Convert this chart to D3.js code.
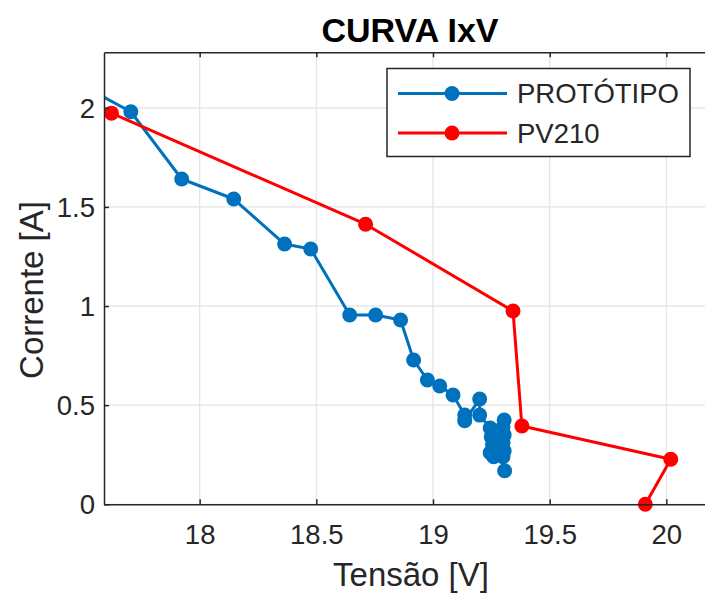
<!DOCTYPE html>
<html>
<head>
<meta charset="utf-8">
<script src="https://cdn.jsdelivr.net/npm/d3@7"></script>
<style>
  body { margin: 0; background: #fff; }
  text { font-family: "Liberation Sans", Arial, sans-serif; }
</style>
</head>
<body>
<svg width="705" height="595"></svg>
<script>
// tensão (V) e corrente (A)
const protoV = [17.50, 17.705, 17.923, 18.146, 18.364, 18.476, 18.643, 18.754, 18.861, 18.917, 18.976, 19.029, 19.086, 19.136, 19.136, 19.200, 19.200, 19.245, 19.250, 19.255, 19.245, 19.260, 19.305, 19.300, 19.305, 19.300, 19.305, 19.300, 19.307];
const protoI = [2.11, 1.98, 1.641, 1.540, 1.313, 1.288, 0.955, 0.955, 0.930, 0.728, 0.627, 0.597, 0.551, 0.450, 0.422, 0.531, 0.450, 0.385, 0.340, 0.300, 0.260, 0.240, 0.425, 0.390, 0.350, 0.310, 0.270, 0.240, 0.169];
const pvV = [17.622, 18.711, 19.343, 19.381, 20.019, 19.910];
const pvI = [1.973, 1.413, 0.975, 0.395, 0.227, 0.0];
const xTicks = [18, 18.5, 19, 19.5, 20];
const yTicks = [0, 0.5, 1, 1.5, 2];
const seriesNames = ["PROTÓTIPO", "PV210"];
const seriesColors = ["#0072BD", "#FF0000"];

const svg = d3.select("svg");
const pLeft = 104, pRight = 720, pTop = 52.3, pBottom = 504.3;

const x = d3.scaleLinear().domain([17.59, 20.23]).range([pLeft, pRight]);
const y = d3.scaleLinear().domain([0, 2.28]).range([pBottom, pTop]);

svg.append("clipPath").attr("id", "plotclip")
  .append("rect").attr("x", pLeft).attr("y", pTop).attr("width", pRight - pLeft).attr("height", pBottom - pTop);

//grid
svg.append("g").selectAll("line").data(xTicks).enter().append("line")
  .attr("x1", d => x(d)).attr("x2", d => x(d)).attr("y1", pTop).attr("y2", pBottom)
  .attr("stroke", "#e3e3e3").attr("stroke-width", 1.2);
svg.append("g").selectAll("line").data(yTicks).enter().append("line")
  .attr("y1", d => y(d)).attr("y2", d => y(d)).attr("x1", pLeft).attr("x2", pRight)
  .attr("stroke", "#e3e3e3").attr("stroke-width", 1.2);

// series
const series = [
  { name: seriesNames[0], color: seriesColors[0], pts: protoV.map((v, i) => [v, protoI[i]]) },
  { name: seriesNames[1], color: seriesColors[1], pts: pvV.map((v, i) => [v, pvI[i]]) }
];
const line = d3.line().x(d => x(d[0])).y(d => y(d[1]));

series.forEach(s => {
  svg.append("path").datum(s.pts).attr("d", line)
    .attr("fill", "none").attr("stroke", s.color).attr("stroke-width", 3)
    .attr("stroke-linejoin", "round").attr("clip-path", "url(#plotclip)");
  svg.append("g").selectAll("circle")
    .data(s.pts.filter(d => d[0] >= x.domain()[0] && d[0] <= x.domain()[1]))
    .enter().append("circle")
    .attr("cx", d => x(d[0])).attr("cy", d => y(d[1])).attr("r", 7.5)
    .attr("fill", s.color);
});

// axes (MATLAB style: ticks inward, box)
const axisCol = "#262626";
const xAxis = svg.append("g").attr("transform", `translate(0,${pBottom})`)
  .call(d3.axisBottom(x).tickValues(xTicks).tickSizeInner(-5).tickSizeOuter(0).tickPadding(20).tickFormat(d3.format("")));
const xTop = svg.append("g").attr("transform", `translate(0,${pTop})`)
  .call(d3.axisTop(x).tickValues(xTicks).tickSizeInner(-5).tickSizeOuter(0).tickFormat(""));
const yAxis = svg.append("g").attr("transform", `translate(${pLeft},0)`)
  .call(d3.axisLeft(y).tickValues(yTicks).tickSizeInner(-5).tickSizeOuter(0).tickPadding(9).tickFormat(d3.format("")));

[xAxis, xTop, yAxis].forEach(g => {
  g.select(".domain").attr("stroke", axisCol).attr("stroke-width", 1.5);
  g.selectAll(".tick line").attr("stroke", axisCol).attr("stroke-width", 1.5);
  g.selectAll(".tick text").attr("fill", axisCol).style("font-size", "27.5px")
    .style("font-family", "'Liberation Sans', Arial, sans-serif");
});
xAxis.selectAll(".tick text").attr("dy", "0.71em");
yAxis.selectAll(".tick text").attr("dy", "0.35em");

// legend
const lg = svg.append("g");
lg.append("rect").attr("x", 387).attr("y", 68.5).attr("width", 303).attr("height", 88)
  .attr("fill", "#fff").attr("stroke", axisCol).attr("stroke-width", 1.5);
series.forEach((s, i) => {
  const ly = 93.5 + i * 39.5;
  lg.append("line").attr("x1", 398).attr("x2", 507).attr("y1", ly).attr("y2", ly)
    .attr("stroke", s.color).attr("stroke-width", 3);
  lg.append("circle").attr("cx", 452).attr("cy", ly).attr("r", 7.5).attr("fill", s.color);
  lg.append("text").attr("x", 517).attr("y", ly).attr("dy", "0.36em")
    .attr("fill", axisCol).style("font-size", "27.5px").text(s.name);
});

// titles
svg.append("text").attr("x", 410).attr("y", 42).attr("text-anchor", "middle")
  .style("font-size", "34px").style("font-weight", "bold").attr("fill", "#000").text("CURVA IxV");
svg.append("text").attr("x", 411).attr("y", 586).attr("text-anchor", "middle")
  .style("font-size", "33px").attr("fill", axisCol).text("Tensão [V]");
svg.append("text").attr("transform", "translate(43,290) rotate(-90)").attr("text-anchor", "middle")
  .style("font-size", "33px").attr("fill", axisCol).text("Corrente [A]");
</script>
</body>
</html>
